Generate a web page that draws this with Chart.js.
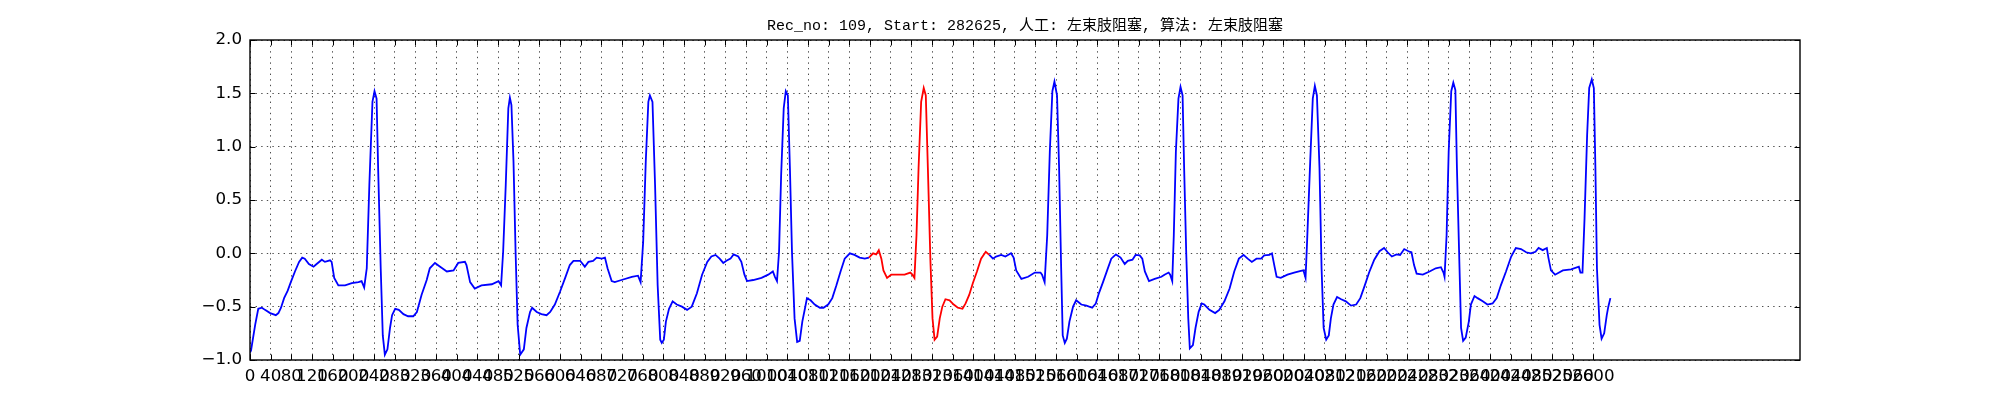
<!DOCTYPE html>
<html>
<head>
<meta charset="utf-8">
<script src="https://cdn.jsdelivr.net/npm/chart.js@4/dist/chart.umd.min.js"></script>
<style>
  html, body { margin: 0; padding: 0; background: #fff; }
  #wrap { width: 2000px; height: 400px; }
</style>
</head>
<body>
<div id="wrap"><canvas id="ecgChart" width="2000" height="400"></canvas></div>
<script>
const chartTitle = 'Rec_no: 109, Start: 282625, 人工: 左束肢阻塞, 算法: 左束肢阻塞';

// sample index (x) and amplitude (y)
const sampleIdx = [
  0, 2, 10, 16, 23, 29, 39, 50, 55, 60, 66, 73, 79, 87, 95, 101, 106, 114, 123, 129, 139, 145, 155, 158,
  163, 171, 184, 197, 210, 216, 221, 226, 231, 237, 241, 245, 248, 253, 257, 261, 266, 271, 275, 281,
  288, 297, 306, 316, 323, 332, 342, 348, 358, 368, 381, 394, 403, 416, 419, 426, 435, 448, 468, 481,
  486, 490, 495, 500, 503, 506, 510, 514, 518, 523, 530, 535, 542, 546, 555, 564, 574, 581, 590, 600,
  610, 619, 626, 639, 648, 655, 664, 671, 681, 687, 692, 700, 706, 719, 739, 751, 756, 761, 766, 771,
  774, 779, 784, 789, 794, 797, 801, 805, 811, 818, 826, 836, 846, 855, 865, 875,
  885, 893, 901, 909, 916, 922, 930, 936, 945, 951, 957, 962, 974, 990, 1003, 1012, 1016, 1020, 1024,
  1028, 1033, 1037, 1041, 1045, 1049, 1054, 1059, 1064, 1069, 1074, 1078, 1085, 1093, 1103, 1110, 1119,
  1127, 1135, 1143, 1151, 1161, 1170, 1180, 1190, 1198,
  1206, 1212, 1217, 1222, 1226, 1233, 1241, 1254, 1267, 1278, 1282, 1286, 1290, 1294, 1299, 1304, 1308,
  1312, 1317, 1321, 1325, 1330, 1335, 1340, 1346, 1354, 1362, 1370, 1379, 1385, 1392, 1399, 1407, 1415,
  1424, 1431,
  1438, 1444, 1454, 1462, 1473, 1478, 1483, 1493, 1506, 1519, 1530, 1533, 1538, 1543, 1548, 1553, 1557,
  1562, 1566, 1570, 1573, 1577, 1581, 1586, 1593, 1599, 1609, 1619, 1630, 1637, 1643, 1651, 1659, 1667,
  1676, 1685, 1693, 1699, 1708, 1714, 1722, 1727, 1732, 1740, 1751, 1764,
  1770, 1778, 1781, 1785, 1788, 1792, 1797, 1801, 1805, 1808, 1812, 1816, 1819, 1825, 1830, 1836, 1842,
  1847, 1857, 1868, 1876, 1886, 1896, 1905, 1914, 1923, 1931, 1939, 1948, 1957, 1963, 1973, 1978, 1983,
  1987, 1995, 2008, 2021, 2034, 2039, 2043, 2046, 2052, 2057, 2061, 2065, 2070, 2074, 2078, 2083, 2088,
  2092, 2097, 2104, 2112, 2121, 2131, 2141, 2149, 2157, 2166, 2176, 2186, 2195, 2202, 2210, 2219, 2226,
  2234, 2244, 2248, 2253, 2258, 2270, 2283, 2295, 2305, 2310, 2312, 2316, 2320, 2325, 2329, 2333, 2336,
  2341, 2344, 2348, 2353, 2359, 2363, 2370, 2376, 2386, 2395, 2405, 2413, 2421, 2431, 2441, 2450, 2460,
  2470, 2479, 2488, 2494, 2502, 2510, 2513, 2518, 2526, 2541, 2557, 2572, 2575, 2579, 2583, 2588, 2592,
  2597, 2601, 2604, 2607, 2612, 2616, 2621, 2626, 2629, 2633
];
const ecgValues = [
  -0.93, -0.91, -0.67, -0.52, -0.51, -0.53, -0.56, -0.58, -0.56, -0.51, -0.42, -0.35, -0.27, -0.17, -0.08, -0.04, -0.05, -0.10, -0.125, -0.10, -0.06, -0.08, -0.065, -0.08,
  -0.23, -0.30, -0.30, -0.28, -0.27, -0.26, -0.32, -0.14, 0.64, 1.42, 1.52, 1.45, 0.80, -0.14, -0.77, -0.95, -0.90, -0.70, -0.58, -0.52,
  -0.53, -0.57, -0.59, -0.59, -0.55, -0.39, -0.25, -0.14, -0.09, -0.125, -0.17, -0.16, -0.09, -0.08, -0.11, -0.27, -0.33, -0.30, -0.29, -0.26,
  -0.30, 0.02, 0.64, 1.36, 1.46, 1.39, 0.86, 0.02, -0.67, -0.95, -0.90, -0.70, -0.55, -0.51, -0.55, -0.57, -0.58, -0.55, -0.48, -0.36,
  -0.23, -0.11, -0.07, -0.07, -0.125, -0.08, -0.07, -0.04, -0.05, -0.04, -0.14, -0.26, -0.27, -0.25, -0.22, -0.21, -0.27, 0.11, 0.86, 1.42,
  1.48, 1.42, 0.64, -0.30, -0.81, -0.84, -0.81, -0.64, -0.52, -0.45, -0.48, -0.50, -0.53, -0.50, -0.375, -0.20,
  -0.08, -0.03, -0.015, -0.05, -0.09, -0.07, -0.05, -0.01, -0.03, -0.08, -0.20, -0.26, -0.25, -0.23, -0.20, -0.17, -0.22, -0.26, 0.02,
  0.73, 1.36, 1.52, 1.48, 0.80, 0.015, -0.61, -0.83, -0.82, -0.64, -0.52, -0.42, -0.44, -0.48, -0.51, -0.51, -0.48,
  -0.42, -0.30, -0.17, -0.05, 0.0, -0.015, -0.04, -0.05, -0.04,
  0.0, -0.01, 0.03, -0.05, -0.16, -0.23, -0.20, -0.20, -0.20, -0.18, -0.20, -0.23, 0.17, 0.80, 1.42, 1.55, 1.48,
  0.80, -0.08, -0.61, -0.81, -0.78, -0.61, -0.50, -0.43, -0.44, -0.48, -0.51, -0.52, -0.47, -0.39, -0.28, -0.17, -0.05,
  0.015, -0.015,
  -0.05, -0.03, -0.015, -0.03, 0.0, -0.04, -0.16, -0.24, -0.22, -0.18, -0.18, -0.20, -0.27, 0.17, 0.95, 1.52, 1.61,
  1.48, 0.80, -0.14, -0.77, -0.84, -0.80, -0.64, -0.50, -0.44, -0.48, -0.49, -0.51, -0.47, -0.375, -0.27, -0.16, -0.05,
  -0.01, -0.04, -0.10, -0.07, -0.06, -0.015, -0.02, -0.05, -0.17, -0.26, -0.24, -0.22,
  -0.20, -0.18, -0.20, -0.26, 0.17, 0.95, 1.45, 1.56, 1.48, 0.80, 0.015, -0.61, -0.89, -0.86, -0.70, -0.55, -0.47,
  -0.48, -0.53, -0.56, -0.53, -0.45, -0.33, -0.17, -0.05, -0.015, -0.05, -0.08, -0.05, -0.05, -0.02, -0.015, 0.0, -0.125,
  -0.22, -0.23, -0.20, -0.18, -0.165, -0.16, -0.23, 0.11, 0.86, 1.45, 1.57, 1.48, 0.80, -0.14, -0.70, -0.81, -0.77,
  -0.61, -0.48, -0.41, -0.43, -0.45, -0.49, -0.48, -0.42, -0.31, -0.18, -0.06, 0.02, 0.05, 0.01, -0.03, -0.01, -0.015,
  0.04, 0.015, 0.01, -0.11, -0.19, -0.20, -0.17, -0.14, -0.13, -0.18, -0.22, 0.17, 0.95, 1.52, 1.60, 1.53, 0.80,
  -0.14, -0.70, -0.82, -0.79, -0.64, -0.48, -0.40, -0.42, -0.45, -0.48, -0.47, -0.42, -0.30, -0.17, -0.03, 0.05, 0.04,
  0.01, 0.0, 0.015, 0.05, 0.03, 0.05, -0.04, -0.16, -0.20, -0.16, -0.15, -0.125, -0.18, -0.18, 0.33, 1.11, 1.55,
  1.63, 1.55, 0.80, -0.14, -0.67, -0.80, -0.75, -0.58, -0.50, -0.42
];

// beat marked in red
const redStart = 1198;
const redEnd = 1432;

const xTickValues = [
  0, 40, 80, 120, 160, 200, 240, 280, 320, 360, 400, 440, 480, 520, 560, 600, 640, 680, 720, 760,
  800, 840, 880, 920, 960, 1000, 1040, 1080, 1120, 1160, 1200, 1240, 1280, 1320, 1360, 1400, 1440,
  1480, 1520, 1560, 1600, 1640, 1680, 1720, 1760, 1800, 1840, 1880, 1920, 1960, 2000, 2040, 2080,
  2120, 2160, 2200, 2240, 2280, 2320, 2360, 2400, 2440, 2480, 2520, 2560, 2600
];
const yTickValues = [-1.0, -0.5, 0.0, 0.5, 1.0, 1.5, 2.0];

const tickFont = { family: '"DejaVu Sans", sans-serif', size: 16.7 };

// frame plus inward tick marks on all four sides
const framePlugin = {
    id: 'frame',
    afterDraw(chart) {
        const ctx = chart.ctx;
        const a = chart.chartArea;
        const xs = chart.scales.x;
        const ys = chart.scales.y;
        const len = 5.5;
        ctx.save();
        ctx.strokeStyle = '#000';
        ctx.lineWidth = 1;
        ctx.beginPath();
        xTickValues.forEach(v => {
            const px = Math.round(xs.getPixelForValue(v)) + 0.5;
            ctx.moveTo(px, a.bottom); ctx.lineTo(px, a.bottom - len);
            ctx.moveTo(px, a.top); ctx.lineTo(px, a.top + len);
        });
        yTickValues.forEach(v => {
            const py = Math.round(ys.getPixelForValue(v)) + 0.5;
            ctx.moveTo(a.left, py); ctx.lineTo(a.left + len, py);
            ctx.moveTo(a.right, py); ctx.lineTo(a.right - len, py);
        });
        ctx.stroke();
        ctx.lineWidth = 1.4;
        ctx.strokeRect(a.left, a.top, a.right - a.left, a.bottom - a.top);
        ctx.restore();
    }
};

function drawEcg() {
    const ctx = document.getElementById('ecgChart').getContext('2d');
    const points = sampleIdx.map((x, i) => ({ x: x, y: ecgValues[i] }));

    new Chart(ctx, {
        type: 'line',
        data: {
            datasets: [{
                data: points,
                borderColor: '#0000ff',
                borderWidth: 1.8,
                pointRadius: 0,
                tension: 0,
                fill: false,
                segment: {
                    borderColor: c => (c.p0.parsed.x >= redStart && c.p1.parsed.x <= redEnd) ? '#ff0000' : '#0000ff'
                }
            }]
        },
        options: {
            responsive: false,
            animation: false,
            devicePixelRatio: 1,
            layout: { padding: { left: 0, right: 200, top: 0, bottom: 0 } },
            plugins: {
                legend: { display: false },
                tooltip: { enabled: false },
                title: {
                    display: true,
                    text: chartTitle,
                    fullSize: false,
                    color: '#000',
                    font: { family: '"Liberation Mono", "Noto Sans CJK SC", monospace', size: 15, weight: 'normal' },
                    padding: { top: 17, bottom: 5 }
                }
            },
            scales: {
                x: {
                    type: 'linear',
                    min: 0,
                    max: 3000,
                    afterBuildTicks: scale => { scale.ticks = xTickValues.map(v => ({ value: v })); },
                    afterFit: scale => { scale.height = 40; },
                    ticks: {
                        autoSkip: false,
                        maxRotation: 0,
                        minRotation: 0,
                        padding: 7,
                        color: '#000',
                        font: tickFont,
                        callback: v => String(v)
                    },
                    grid: { color: '#000', lineWidth: 0.7, drawTicks: false },
                    border: { display: false, dash: [1.4, 4.2] }
                },
                y: {
                    min: -1,
                    max: 2,
                    afterBuildTicks: scale => { scale.ticks = yTickValues.map(v => ({ value: v })); },
                    afterFit: scale => { scale.width = 250; },
                    ticks: {
                        padding: 8,
                        color: '#000',
                        font: tickFont,
                        callback: v => v.toFixed(1).replace('-', '\u2212')
                    },
                    grid: { color: '#000', lineWidth: 0.7, drawTicks: false },
                    border: { display: false, dash: [1.4, 4.2] }
                }
            }
        },
        plugins: [framePlugin]
    });
}

drawEcg();
</script>
</body>
</html>
